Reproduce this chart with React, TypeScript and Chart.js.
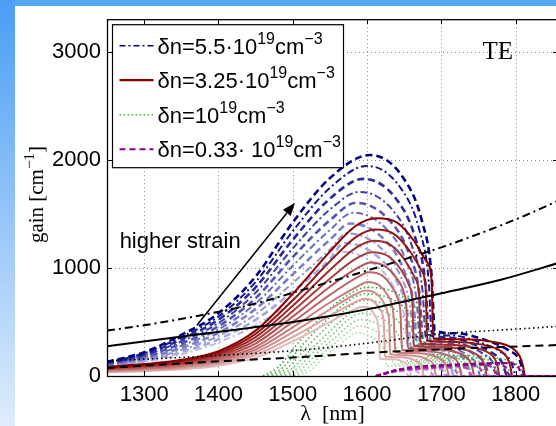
import React, { useEffect, useRef } from 'react';
import { Chart, registerables } from 'chart.js';
Chart.register(...registerables);

// ---------- axes ----------
const xMin = 1250;
const xMax = 1857;
const yMin = 0;
const yMax = 3300;
const xTickValues = [1300, 1400, 1500, 1600, 1700, 1800];
const yTickValues = [0, 1000, 2000, 3000];

// ---------- black reference curves ----------
const blackDashDot = [[1250, 420], [1300, 470], [1375, 560], [1450, 670], [1510, 790], [1600, 975], [1700, 1190], [1806, 1465], [1860, 1630]];
const blackSolid = [[1250, 276], [1320, 338], [1420, 425], [1520, 520], [1610, 630], [1700, 765], [1780, 890], [1860, 1050]];
const blackDotted = [[1250, 140], [1400, 190], [1520, 245], [1620, 320], [1700, 390], [1780, 425], [1860, 460]];
const blackDashed = [[1250, 75], [1385, 130], [1510, 175], [1617, 220], [1740, 258], [1860, 287]];

// ---------- δn = 5.5e19 (blue, dashed / dash-dot alternating) ----------
const blueCurves = [
  [[1250,130],[1300,220],[1350,380],[1400,580],[1450,920],[1500,1420],[1550,1830],[1604,2044],[1648,1840],[1674,1430],[1687,920],[1691,420],[1720,395],[1760,330],[1790,240],[1805,150],[1812,0]],
  [[1250,125],[1300,210],[1350,360],[1400,550],[1450,870],[1500,1340],[1550,1740],[1600,1943],[1644,1750],[1670,1360],[1683,875],[1687,400],[1714,375],[1750,315],[1778,230],[1793,140],[1800,0]],
  [[1250,120],[1300,200],[1350,340],[1400,520],[1450,820],[1500,1260],[1550,1640],[1595,1823],[1639,1640],[1665,1275],[1679,820],[1683,380],[1708,357],[1741,300],[1767,218],[1781,133],[1788,0]],
  [[1250,115],[1300,190],[1350,320],[1400,490],[1450,770],[1500,1180],[1550,1540],[1590,1703],[1635,1530],[1661,1190],[1675,765],[1679,360],[1702,338],[1733,284],[1756,206],[1769,126],[1776,0]],
  [[1250,110],[1300,180],[1350,300],[1400,460],[1450,720],[1500,1100],[1550,1440],[1585,1602],[1630,1440],[1657,1120],[1671,720],[1675,340],[1697,320],[1726,268],[1746,195],[1758,120],[1764,0]],
  [[1250,105],[1300,170],[1350,280],[1400,430],[1450,670],[1500,1020],[1550,1350],[1581,1510],[1626,1360],[1653,1057],[1667,680],[1671,320],[1692,300],[1719,252],[1737,183],[1747,112],[1752,0]],
  [[1250,100],[1300,160],[1350,260],[1400,400],[1450,620],[1500,940],[1550,1260],[1577,1410],[1622,1270],[1649,987],[1663,635],[1667,300],[1686,282],[1712,237],[1729,172],[1735,105],[1740,0]],
  [[1250,95],[1300,150],[1350,240],[1400,370],[1450,570],[1500,860],[1550,1170],[1573,1320],[1618,1188],[1645,924],[1659,594],[1663,285],[1681,268],[1705,225],[1720,163],[1724,100],[1728,0]],
  [[1250,90],[1300,140],[1350,220],[1400,340],[1450,520],[1500,780],[1550,1080],[1569,1230],[1614,1107],[1641,861],[1655,553],[1659,270],[1675,254],[1697,213],[1710,155],[1713,95],[1716,0]],
  [[1250,85],[1300,130],[1350,200],[1400,310],[1450,470],[1500,700],[1550,1060],[1565,1150],[1610,1035],[1637,805],[1651,518],[1655,255],[1670,240],[1690,200],[1700,145],[1702,90],[1704,0]],
];

// ---------- δn = 3.25e19 (red, solid) ----------
const redCurves = [
  [[1250,85],[1300,110],[1350,150],[1400,230],[1450,420],[1500,760],[1550,1150],[1585,1390],[1613,1460],[1640,1420],[1662,1260],[1680,1060],[1687,880],[1689,350],[1730,340],[1770,315],[1795,260],[1805,190],[1810,90],[1812,0]],
  [[1250,80],[1300,100],[1350,140],[1400,215],[1450,390],[1500,700],[1550,1060],[1585,1285],[1611,1355],[1636,1315],[1656,1170],[1673,980],[1679,810],[1681,325],[1720,315],[1755,290],[1778,240],[1788,175],[1793,85],[1795,0]],
  [[1250,75],[1300,95],[1350,130],[1400,200],[1450,360],[1500,650],[1550,980],[1585,1185],[1609,1250],[1632,1210],[1650,1080],[1665,900],[1670,750],[1672,300],[1708,290],[1740,268],[1762,220],[1772,160],[1776,80],[1778,0]],
  [[1250,70],[1300,90],[1350,120],[1400,185],[1450,330],[1500,600],[1550,900],[1585,1085],[1607,1145],[1628,1110],[1645,990],[1657,830],[1661,690],[1663,280],[1697,270],[1727,250],[1746,205],[1755,150],[1759,75],[1761,0]],
  [[1250,62],[1300,82],[1350,110],[1400,170],[1450,300],[1500,550],[1550,825],[1585,990],[1605,1050],[1624,1015],[1639,910],[1650,760],[1653,630],[1655,260],[1686,252],[1713,232],[1730,190],[1738,140],[1742,70],[1744,0]],
  [[1250,55],[1300,75],[1350,100],[1400,155],[1450,270],[1500,500],[1550,750],[1585,905],[1603,960],[1620,930],[1633,830],[1642,700],[1645,580],[1647,240],[1675,232],[1699,214],[1714,175],[1722,130],[1725,65],[1727,0]],
  [[1250,50],[1300,68],[1350,90],[1400,140],[1450,245],[1500,450],[1550,680],[1585,820],[1601,870],[1615,845],[1627,755],[1634,640],[1636,530],[1638,220],[1663,212],[1685,196],[1698,160],[1705,120],[1708,60],[1710,0]],
  [[1250,45],[1300,60],[1350,82],[1400,125],[1450,220],[1500,405],[1550,615],[1580,740],[1599,790],[1612,765],[1622,685],[1628,580],[1630,480],[1631,200],[1653,193],[1672,178],[1683,145],[1689,110],[1691,55],[1693,0]],
  [[1250,40],[1300,52],[1350,72],[1400,110],[1450,195],[1500,360],[1550,555],[1580,670],[1597,715],[1608,695],[1617,620],[1622,525],[1623,430],[1624,180],[1643,173],[1659,160],[1668,130],[1673,100],[1675,50],[1676,0]],
  [[1250,35],[1300,45],[1350,62],[1400,95],[1450,170],[1500,320],[1550,500],[1578,600],[1595,640],[1604,622],[1611,555],[1615,470],[1616,390],[1617,160],[1632,154],[1645,142],[1652,115],[1656,88],[1658,44],[1659,0]],
];

// ---------- δn = 1e19 (green, dotted) ----------
const greenCurves = [
  [[1460,0],[1480,80],[1510,330],[1540,560],[1570,730],[1600,820],[1645,745],[1671,575],[1685,370],[1689,200],[1730,190],[1770,170],[1795,130],[1806,80],[1812,0]],
  [[1466,0],[1486,75],[1516,310],[1546,520],[1572,680],[1598,760],[1639,690],[1663,530],[1676,345],[1680,185],[1719,176],[1756,157],[1779,120],[1789,74],[1795,0]],
  [[1472,0],[1492,70],[1522,290],[1550,480],[1574,630],[1596,700],[1633,635],[1655,490],[1667,315],[1671,170],[1708,162],[1742,145],[1763,110],[1772,68],[1778,0]],
  [[1478,0],[1498,65],[1528,270],[1554,440],[1575,570],[1594,640],[1628,580],[1648,448],[1658,290],[1662,155],[1697,148],[1728,132],[1747,100],[1756,62],[1761,0]],
  [[1484,0],[1504,60],[1532,250],[1556,400],[1575,520],[1592,580],[1622,525],[1640,405],[1649,260],[1653,140],[1686,134],[1714,119],[1731,91],[1739,56],[1744,0]],
  [[1490,0],[1510,55],[1536,230],[1558,360],[1575,465],[1590,520],[1617,470],[1633,365],[1641,235],[1644,125],[1675,120],[1700,107],[1715,81],[1723,50],[1727,0]],
  [[1496,0],[1516,50],[1540,205],[1560,320],[1575,410],[1588,460],[1612,415],[1626,322],[1633,205],[1635,110],[1664,105],[1686,94],[1700,72],[1706,44],[1710,0]],
  [[1502,0],[1522,45],[1544,185],[1562,280],[1575,360],[1586,400],[1606,362],[1619,280],[1625,180],[1626,95],[1653,91],[1672,82],[1684,62],[1689,38],[1693,0]],
];

// ---------- δn = 0.33e19 (magenta, dashed) ----------
const magentaCurves = [
  [[1612,0],[1650,70],[1720,105],[1785,120],[1802,95],[1810,0],[1860,0]],
  [[1612,0],[1648,65],[1712,98],[1768,112],[1785,88],[1793,0],[1860,0]],
  [[1612,0],[1646,60],[1704,91],[1751,104],[1768,82],[1776,0],[1860,0]],
  [[1612,0],[1644,56],[1696,84],[1734,96],[1751,76],[1759,0],[1860,0]],
  [[1612,0],[1642,52],[1688,77],[1717,88],[1734,70],[1742,0],[1860,0]],
  [[1612,0],[1640,48],[1680,70],[1700,80],[1717,64],[1725,0],[1860,0]],
  [[1612,0],[1638,44],[1668,63],[1685,72],[1700,58],[1708,0],[1860,0]],
  [[1612,0],[1636,40],[1656,56],[1670,64],[1683,51],[1691,0],[1860,0]],
  [[1612,0],[1632,34],[1646,48],[1656,56],[1667,45],[1674,0],[1860,0]],
  [[1612,0],[1626,28],[1636,40],[1643,48],[1651,38],[1657,0],[1860,0]],
];

// ---------- annotations (data coordinates) ----------
const arrowFrom = [1371, 470];
const arrowTo = [1503, 1602];
const strainLabel = 'higher strain';
const strainLabelAt = [1267, 1180];
const modeLabel = 'TE';
const modeLabelAt = [1776, 3000];
const xTitle = 'λ  [nm]';
const yTitleParts: [string, boolean][] = [['gain [cm', false], ['−1', true], [']', false]];
const legendEntries: { parts: [string, boolean][]; color: string; dash: number[]; width: number }[] = [
  { parts: [['δn=5.5·10', false], ['19', true], ['cm', false], ['−3', true]], color: '#00008b', dash: [6, 3, 2, 3], width: 1.6 },
  { parts: [['δn=3.25·10', false], ['19', true], ['cm', false], ['−3', true]], color: '#8b0000', dash: [], width: 2.2 },
  { parts: [['δn=10', false], ['19', true], ['cm', false], ['−3', true]], color: '#3cb43c', dash: [1.5, 2.5], width: 1.6 },
  { parts: [['δn=0.33· 10', false], ['19', true], ['cm', false], ['−3', true]], color: '#8b008b', dash: [6, 4], width: 2 },
];

const SANS = '"Liberation Sans", Arial, Helvetica, sans-serif';
const SERIF = '"Liberation Serif", "Times New Roman", serif';

function pts(c: number[][]) {
  return c.map(([x, y]) => ({ x, y }));
}
function mix(a: number[], b: number[], t: number) {
  return `rgb(${a.map((v, i) => Math.round(v + (b[i] - v) * t)).join(',')})`;
}

function drawRich(ctx: CanvasRenderingContext2D, parts: [string, boolean][], x: number, y: number, size: number, supSize: number, family: string, raise: number, measureOnly = false) {
  let cx = x;
  for (const [t, sup] of parts) {
    ctx.font = `${sup ? supSize : size}px ${family}`;
    if (!measureOnly) ctx.fillText(t, cx, sup ? y - raise : y);
    cx += ctx.measureText(t).width;
  }
  return cx - x;
}

const decorPlugin = {
  id: 'decor',
  beforeDatasetsDraw(chart: any) {
    const { ctx, chartArea: a, scales } = chart;
    const xs = scales.x, ys = scales.y;
    ctx.save();
    ctx.strokeStyle = '#8a8a8a';
    ctx.lineWidth = 1;
    ctx.setLineDash([1, 3]);
    xTickValues.forEach((v) => {
      const p = Math.round(xs.getPixelForValue(v)) + 0.5;
      ctx.beginPath(); ctx.moveTo(p, a.top); ctx.lineTo(p, a.bottom); ctx.stroke();
    });
    yTickValues.filter((v) => v > 0).forEach((v) => {
      const p = Math.round(ys.getPixelForValue(v)) + 0.5;
      ctx.beginPath(); ctx.moveTo(a.left, p); ctx.lineTo(a.right, p); ctx.stroke();
    });
    ctx.restore();
  },
  afterDatasetsDraw(chart: any) {
    const { ctx, chartArea: a, scales } = chart;
    const xs = scales.x, ys = scales.y;
    ctx.save();
    // frame
    ctx.strokeStyle = '#000';
    ctx.lineWidth = 1.3;
    ctx.setLineDash([]);
    ctx.strokeRect(a.left + 0.5, a.top + 0.5, a.right - a.left, a.bottom - a.top);
    // inward ticks
    ctx.lineWidth = 1;
    const tl = 5;
    xTickValues.forEach((v) => {
      const p = Math.round(xs.getPixelForValue(v)) + 0.5;
      ctx.beginPath(); ctx.moveTo(p, a.bottom); ctx.lineTo(p, a.bottom - tl); ctx.stroke();
      ctx.beginPath(); ctx.moveTo(p, a.top); ctx.lineTo(p, a.top + tl); ctx.stroke();
    });
    yTickValues.forEach((v) => {
      const p = Math.round(ys.getPixelForValue(v)) + 0.5;
      ctx.beginPath(); ctx.moveTo(a.left, p); ctx.lineTo(a.left + tl, p); ctx.stroke();
      ctx.beginPath(); ctx.moveTo(a.right, p); ctx.lineTo(a.right - tl, p); ctx.stroke();
    });

    // arrow
    const x0 = xs.getPixelForValue(arrowFrom[0]), y0 = ys.getPixelForValue(arrowFrom[1]);
    const x1 = xs.getPixelForValue(arrowTo[0]), y1 = ys.getPixelForValue(arrowTo[1]);
    const ang = Math.atan2(y1 - y0, x1 - x0);
    const hl = 13, hw = 5;
    const bx = x1 - hl * Math.cos(ang), by = y1 - hl * Math.sin(ang);
    ctx.lineWidth = 1.5;
    ctx.beginPath(); ctx.moveTo(x0, y0); ctx.lineTo(bx, by); ctx.stroke();
    ctx.fillStyle = '#000';
    ctx.beginPath();
    ctx.moveTo(x1, y1);
    ctx.lineTo(bx + hw * Math.sin(ang), by - hw * Math.cos(ang));
    ctx.lineTo(bx - hw * Math.sin(ang), by + hw * Math.cos(ang));
    ctx.closePath(); ctx.fill();

    // texts inside plot
    ctx.fillStyle = '#000';
    ctx.textBaseline = 'alphabetic';
    ctx.textAlign = 'left';
    ctx.font = `22px ${SANS}`;
    ctx.fillText(strainLabel, xs.getPixelForValue(strainLabelAt[0]), ys.getPixelForValue(strainLabelAt[1]));
    ctx.font = `25px ${SERIF}`;
    ctx.textAlign = 'center';
    ctx.textBaseline = 'middle';
    ctx.fillText(modeLabel, xs.getPixelForValue(modeLabelAt[0]), ys.getPixelForValue(modeLabelAt[1]) + 1);

    // legend
    const lx = a.left + 5.5, ly = a.top + 5.5, lw = 231, lh = 143;
    ctx.fillStyle = '#fff';
    ctx.fillRect(lx, ly, lw, lh);
    ctx.strokeStyle = '#000';
    ctx.lineWidth = 1.2;
    ctx.strokeRect(lx, ly, lw, lh);
    ctx.textAlign = 'left';
    ctx.textBaseline = 'alphabetic';
    legendEntries.forEach((e, i) => {
      const cy = ly + 21 + i * 34.5;
      ctx.strokeStyle = e.color;
      ctx.lineWidth = e.width;
      ctx.setLineDash(e.dash);
      ctx.beginPath(); ctx.moveTo(lx + 7, cy); ctx.lineTo(lx + 41, cy); ctx.stroke();
      ctx.setLineDash([]);
      ctx.fillStyle = '#000';
      drawRich(ctx, e.parts, lx + 45, cy + 8, 22, 16, SANS, 10);
    });

    ctx.restore();
  },
  afterDraw(chart: any) {
    const { ctx, chartArea: a } = chart;
    ctx.save();
    ctx.fillStyle = '#000';
    // x title
    ctx.font = `22px ${SERIF}`;
    ctx.textAlign = 'center';
    ctx.textBaseline = 'alphabetic';
    ctx.fillText(xTitle, (a.left + a.right) / 2, 420);
    // y title (rotated)
    ctx.textAlign = 'left';
    const w = drawRich(ctx, yTitleParts, 0, 0, 21, 15, SERIF, 9, true);
    ctx.translate(43, (a.top + a.bottom) / 2 - 3);
    ctx.rotate(-Math.PI / 2);
    drawRich(ctx, yTitleParts, -w / 2, 0, 21, 15, SERIF, 9);
    ctx.restore();
  },
};

export default function App() {
  const ref = useRef<HTMLCanvasElement | null>(null);

  useEffect(() => {
    if (!ref.current) return;
    const datasets: any[] = [];
    const base = { pointRadius: 0, fill: false, cubicInterpolationMode: 'monotone', tension: 0.4, borderCapStyle: 'butt' };

    datasets.push({ ...base, data: pts(blackDashDot), borderColor: '#000', borderWidth: 2, borderDash: [8, 4, 2, 4] });
    datasets.push({ ...base, data: pts(blackSolid), borderColor: '#000', borderWidth: 2 });
    datasets.push({ ...base, data: pts(blackDotted), borderColor: '#000', borderWidth: 1.6, borderDash: [1.5, 3] });
    datasets.push({ ...base, data: pts(blackDashed), borderColor: '#000', borderWidth: 2, borderDash: [8, 5] });

    magentaCurves.forEach((c, i) => {
      const t = i / (magentaCurves.length - 1);
      datasets.push({ ...base, data: pts(c), borderColor: mix([140, 0, 140], [228, 175, 228], t), borderWidth: 2.2, borderDash: [5, 3] });
    });
    redCurves.forEach((c, i) => {
      const t = i / (redCurves.length - 1);
      datasets.push({ ...base, data: pts(c), borderColor: mix([139, 0, 0], [228, 185, 185], t), borderWidth: 2 });
    });
    greenCurves.forEach((c, i) => {
      const t = i / (greenCurves.length - 1);
      datasets.push({ ...base, data: pts(c), borderColor: mix([50, 165, 50], [165, 220, 165], t), borderWidth: 1.6, borderDash: [1.5, 2.5] });
    });
    blueCurves.forEach((c, i) => {
      const t = i / (blueCurves.length - 1);
      const dashed = i % 2 === 0;
      datasets.push({ ...base, data: pts(c), borderColor: mix([0, 0, 130], [185, 190, 232], t), borderWidth: dashed ? 2.6 : 2, borderDash: dashed ? [7, 4] : [7, 3, 2, 3] });
    });

    const chart = new Chart(ref.current, {
      type: 'line',
      data: { datasets },
      options: {
        animation: false,
        responsive: false,
        maintainAspectRatio: false,
        layout: { padding: { left: 0, right: 12, top: 17, bottom: 0 } },
        plugins: { legend: { display: false }, tooltip: { enabled: false }, title: { display: false } },
        scales: {
          x: {
            type: 'linear',
            min: xMin,
            max: xMax,
            grid: { display: false, drawTicks: false },
            border: { display: false },
            afterBuildTicks: (s: any) => { s.ticks = xTickValues.map((v) => ({ value: v })); },
            afterFit: (s: any) => { s.height = 50; },
            ticks: { padding: 6, color: '#000', font: { family: SANS, size: 22 }, maxRotation: 0, autoSkip: false, callback: (v: any) => String(v) },
          },
          y: {
            type: 'linear',
            min: yMin,
            max: yMax,
            grid: { display: false, drawTicks: false },
            border: { display: false },
            afterBuildTicks: (s: any) => { s.ticks = yTickValues.map((v) => ({ value: v })); },
            afterFit: (s: any) => { s.width = 107; },
            ticks: { padding: 6, color: '#000', font: { family: SANS, size: 22 }, autoSkip: false, callback: (v: any) => String(v) },
          },
        },
      },
      plugins: [decorPlugin],
    } as any);
    return () => chart.destroy();
  }, []);

  return (
    <div style={{ position: 'fixed', left: 0, top: 0, width: 556, height: 426, overflow: 'hidden', background: '#fff' }}>
      <div style={{ position: 'absolute', left: 0, top: 0, width: 556, height: 6, background: '#58a8f6' }} />
      <div style={{ position: 'absolute', left: 0, top: 0, width: 15, height: 426, background: 'linear-gradient(to bottom, #4a9ef4, #dfecfc)' }} />
      <canvas ref={ref} width={570} height={426} style={{ position: 'absolute', left: 0, top: 0, width: 570, height: 426 }} />
    </div>
  );
}
